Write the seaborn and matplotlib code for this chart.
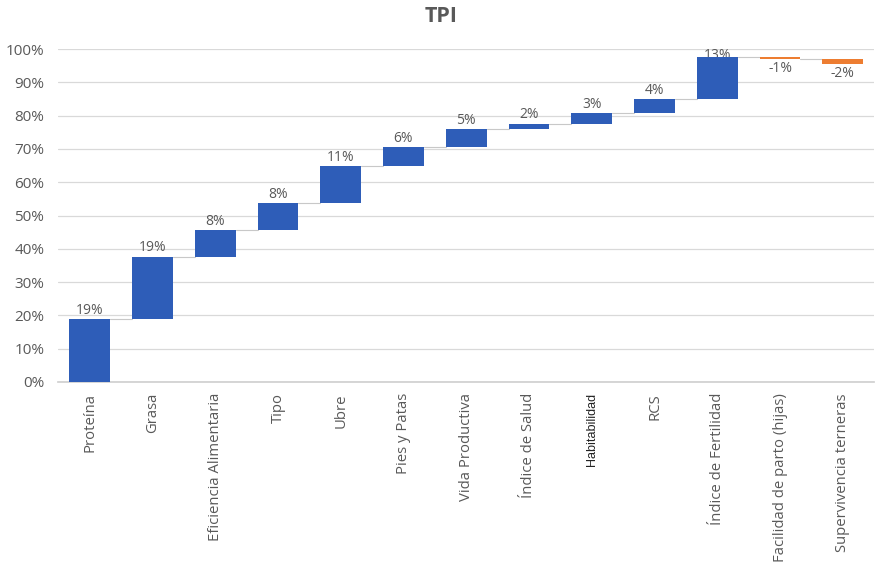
import numpy as np
import pandas as pd
import matplotlib
matplotlib.use("Agg")
import matplotlib.pyplot as plt
from matplotlib.ticker import PercentFormatter
import seaborn as sns

categories = [
    "Proteína", "Grasa", "Eficiencia Alimentaria", "Tipo", "Ubre",
    "Pies y Patas", "Vida Productiva", "Índice de Salud", "Habitabilidad",
    "RCS", "Índice de Fertilidad", "Facilidad de parto (hijas)",
    "Supervivencia terneras",
]
contrib = [18.9, 18.7, 8.0, 8.1, 11.1, 5.8, 5.3, 1.7, 3.1, 4.2, 12.8, -0.6, -1.5]
title = "TPI"

sns.set_theme(style="white")
plt.rcParams["font.family"] = ["Open Sans", "DejaVu Sans"]

TEXT = "#595959"
BLUE = "#2E5DB8"
ORANGE = "#ED7D31"

vals = np.array(contrib)
ends = np.cumsum(vals)
starts = ends - vals
df = pd.DataFrame({"cat": categories, "val": vals})

fig = plt.figure(figsize=(8.83, 5.68), dpi=100)
ax = fig.add_axes([0.066, 0.3275, 0.924, 0.586])

sns.barplot(data=df, x="cat", y="val", order=categories, bottom=starts,
            color=BLUE, saturation=1, width=0.65, errorbar=None, ax=ax,
            zorder=3)
for patch, v in zip(ax.patches, vals):
    patch.set_facecolor(BLUE if v >= 0 else ORANGE)
    patch.set_edgecolor("none")

# connector lines between consecutive bars
half = 0.65 / 2
for i in range(len(vals) - 1):
    ax.plot([i + half, i + 1 - half], [ends[i], ends[i]], color="#C8C8C8",
            lw=0.8, zorder=2)

# value labels; the topmost one is tucked under its bar's upper edge
for i, v in enumerate(vals):
    lab = f"{v:.0f}%"
    top = max(starts[i], ends[i])
    bot = min(starts[i], ends[i])
    if v >= 0:
        if top > 96:
            ax.text(i, top + 0.4, lab, ha="center", va="center", fontsize=10,
                    color=TEXT, zorder=1, clip_on=False)
        else:
            ax.text(i, top + 0.4, lab, ha="center", va="bottom", fontsize=10,
                    color=TEXT, zorder=4)
    else:
        ax.text(i, bot - 0.6, lab, ha="center", va="top", fontsize=10,
                color=TEXT, zorder=4)

ax.set_ylim(0, 100)
ax.set_xlim(-0.5, len(vals) - 0.5)
ax.set_yticks(np.arange(0, 101, 10))
ax.yaxis.set_major_formatter(PercentFormatter(decimals=0))
ax.grid(axis="y", color="#D9D9D9", lw=0.9, zorder=0)
ax.set_axisbelow(True)
for s in ["top", "right", "left"]:
    ax.spines[s].set_visible(False)
ax.spines["bottom"].set_color("#D0D0D0")
ax.set_xlabel("")
ax.set_ylabel("")
ax.tick_params(axis="y", labelsize=11, labelcolor=TEXT, length=0, pad=10)
ax.tick_params(axis="x", length=0, pad=8)
ax.set_xticks(range(len(categories)))
ax.set_xticklabels(categories, rotation=90, fontsize=10.7, color=TEXT,
                   va="top", ha="center")
for t in ax.get_xticklabels():
    if t.get_text() == "Habitabilidad":
        t.set_family(["Liberation Sans", "DejaVu Sans"])
        t.set_fontsize(9)
        t.set_color("#222222")

fig.text(0.5, 0.99, title, ha="center", va="top", fontsize=15.5,
         fontweight="bold", color=TEXT)

fig.savefig("out.png", dpi=100)
